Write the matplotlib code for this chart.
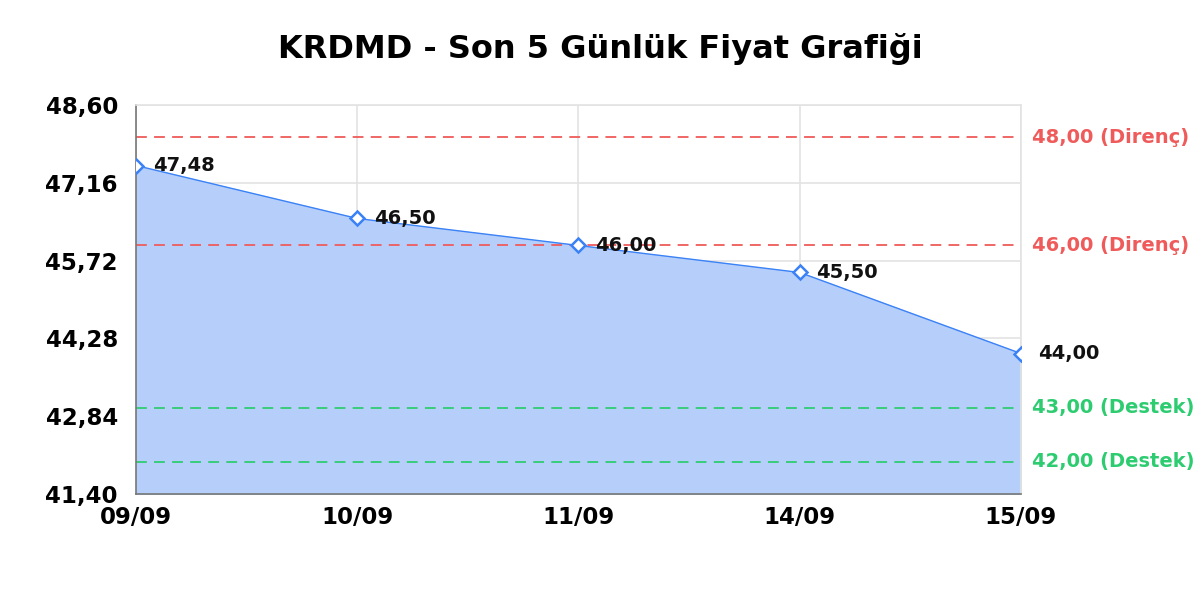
import matplotlib
matplotlib.use("Agg")
import matplotlib.pyplot as plt
from matplotlib.ticker import FixedLocator, FuncFormatter

# data
dates = ["09/09", "10/09", "11/09", "14/09", "15/09"]
prices = [47.48, 46.50, 46.00, 45.50, 44.00]
resistance = [48.00, 46.00]
support = [43.00, 42.00]
y_ticks = [41.40, 42.84, 44.28, 45.72, 47.16, 48.60]

line_col = "#3b82f6"
fill_col = "#b6cffa"
red = "#ef5b5b"
green = "#2ecc71"

def tr(v):
    return f"{v:.2f}".replace(".", ",")

fig = plt.figure(figsize=(12, 6), dpi=100)
ax = fig.add_axes([0.1133, 0.1767, 0.7375, 0.6483])

x = list(range(len(dates)))
ax.fill_between(x, prices, y_ticks[0], color=fill_col, zorder=1)
ax.plot(x, prices, color=line_col, lw=1.0, zorder=3)
ax.plot(x, prices, ls="none", marker="D", ms=7.5, mfc="white", mec=line_col, mew=1.8, zorder=4)

for xi, p in zip(x, prices):
    ax.annotate(tr(p), (xi, p), xytext=(12, 0), textcoords="offset points",
                va="center", ha="left", fontsize=14, fontweight="bold", color="#111111", zorder=5)

for lv in resistance:
    ax.axhline(lv, color=red, ls=(0, (6, 4)), lw=1.3, zorder=2)
    ax.text(1.012, lv, f"{tr(lv)} (Direnç)", transform=ax.get_yaxis_transform(),
            va="center", ha="left", fontsize=14, fontweight="bold", color=red)
for lv in support:
    ax.axhline(lv, color=green, ls=(0, (6, 4)), lw=1.3, zorder=2)
    ax.text(1.012, lv, f"{tr(lv)} (Destek)", transform=ax.get_yaxis_transform(),
            va="center", ha="left", fontsize=14, fontweight="bold", color=green)

ax.set_xlim(0, len(dates) - 1)
ax.set_ylim(y_ticks[0], y_ticks[-1])
ax.set_xticks(x)
ax.set_xticklabels(dates)
ax.yaxis.set_major_locator(FixedLocator(y_ticks))
ax.yaxis.set_major_formatter(FuncFormatter(lambda v, pos: tr(v)))
ax.tick_params(length=0, labelsize=16.5)
ax.tick_params(axis="x", pad=9)
ax.tick_params(axis="y", pad=13)
for lbl in ax.get_xticklabels() + ax.get_yticklabels():
    lbl.set_fontweight("bold")

ax.grid(True, color="#e3e3e3", lw=1.2, zorder=0)
ax.set_axisbelow(True)
for s in ["top", "right"]:
    ax.spines[s].set_color("#e3e3e3")
    ax.spines[s].set_linewidth(1.2)
for s in ["left", "bottom"]:
    ax.spines[s].set_color("#777777")
    ax.spines[s].set_linewidth(1.2)

fig.suptitle("KRDMD - Son 5 Günlük Fiyat Grafiği", fontsize=23, fontweight="bold", y=0.945)

fig.savefig("out.png", dpi=100)
